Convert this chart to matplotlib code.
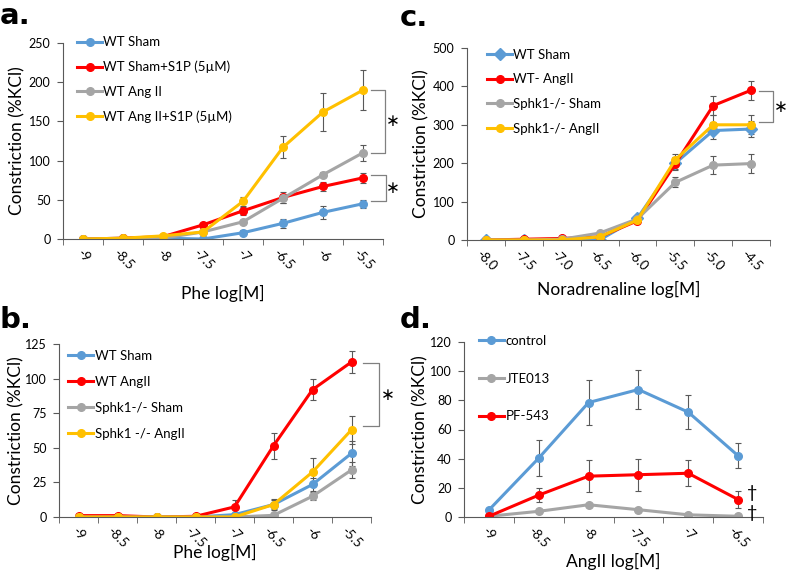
import numpy as np
import matplotlib
matplotlib.use('Agg')
import matplotlib.pyplot as plt

plt.rcParams['font.family'] = ['Lato', 'DejaVu Sans']

BLUE = '#5B9BD5'
RED = '#FF0000'
GRAY = '#A5A5A5'
YELLOW = '#FFC000'

# painel a - Phe
a_x = ['-9', '-8.5', '-8', '-7.5', '-7', '-6.5', '-6', '-5.5']
a_sham = [0, 1, 1, 0, 8, 20, 34, 45]
a_sham_err = [0, 0, 0, 0, 3, 6, 8, 5]
a_sham_s1p = [0, 1, 3, 18, 36, 53, 67, 78]
a_sham_s1p_err = [0, 0, 0, 2, 5, 7, 6, 6]
a_ang = [0, 0, 1, 9, 22, 52, 82, 110]
a_ang_err = [0, 0, 0, 1, 2, 6, 3, 10]
a_ang_s1p = [0, 1, 4, 9, 48, 117, 162, 190]
a_ang_s1p_err = [0, 0, 1, 2, 6, 14, 24, 25]

# painel b - Phe, knockout
b_x = ['-9', '-8.5', '-8', '-7.5', '-7', '-6.5', '-6', '-5.5']
b_sham = [0, 0, 0, 0, 1.7, 9, 23.5, 46]
b_sham_err = [0, 0, 0, 0, 1, 3, 5, 9]
b_ang = [1, 1, 0, 0.5, 7.3, 51.5, 92, 112]
b_ang_err = [0, 0, 0, 0, 5, 9.5, 7.5, 8]
b_ko_sham = [0, 0, 0, 0, 0, 1.2, 15, 34]
b_ko_sham_err = [0, 0, 0, 0, 0, 1, 3, 6]
b_ko_ang = [0, 0, 0, 0, 0, 9, 32.5, 63]
b_ko_ang_err = [0, 0, 0, 0, 0, 4, 10, 10]

# painel c - Noradrenalina
c_x = ['-8.0', '-7.5', '-7.0', '-6.5', '-6.0', '-5.5', '-5.0', '-4.5']
c_sham = [0, 0, 0, 0, 57, 200, 285, 289]
c_sham_err = [0, 0, 0, 0, 3, 15, 22, 20]
c_ang = [0, 2, 4, 8, 50, 198, 350, 390]
c_ang_err = [0, 0, 0, 0, 5, 15, 25, 25]
c_ko_sham = [0, 0, 2, 18, 55, 150, 195, 199]
c_ko_sham_err = [0, 0, 0, 3, 5, 13, 24, 25]
c_ko_ang = [0, 0, 0, 8, 52, 209, 300, 300]
c_ko_ang_err = [0, 0, 0, 2, 4, 15, 25, 25]

# painel d - AngII
d_x = ['-9', '-8.5', '-8', '-7.5', '-7', '-6.5']
d_control = [4.8, 40.4, 78.5, 87.4, 71.9, 42]
d_control_err = [0, 12.5, 15.5, 13.5, 11.5, 8.5]
d_jte = [0.5, 3.9, 8.4, 5, 1.5, 0.5]
d_jte_err = [0, 1, 1.5, 1, 1, 0.5]
d_pf = [0.5, 15, 28, 29, 30, 12]
d_pf_err = [0, 5, 11, 11, 9, 5.5]

W, H = 787, 571
fig = plt.figure(figsize=(W / 100, H / 100), dpi=100)


def px_axes(l, t, r, b):
    # caixa em pixels (topo para baixo) -> coordenadas da figura
    return fig.add_axes([l / W, (H - b) / H, (r - l) / W, (b - t) / H])


def panel(ax, cats, series, ymax, ystep, xlabel, leg_anchor, leg_space,
          ylab_x, xlab_y):
    x = np.arange(len(cats))
    for y, e, cor, nome, mk in series:
        ax.errorbar(x, y, yerr=e, color=cor, lw=2.2, marker=mk,
                    ms=5.5 if mk == 'o' else 6, ecolor='#595959',
                    elinewidth=0.8, capsize=2.5, capthick=0.8, label=nome)
    ax.set_xlim(-0.5, len(cats) - 0.5)
    ax.set_ylim(0, ymax)
    ax.set_yticks(np.arange(0, ymax + 1, ystep))
    ax.set_xticks(x)
    ax.set_xticklabels(cats, rotation=-45, ha='center', fontsize=9.5)
    ax.set_xticks(np.arange(len(cats) + 1) - 0.5, minor=True)
    ax.tick_params(axis='x', which='major', length=0, pad=6)
    ax.tick_params(axis='x', which='minor', length=4, color='#595959')
    ax.tick_params(axis='y', length=4, labelsize=9, color='#595959', pad=5)
    for s in ['top', 'right']:
        ax.spines[s].set_visible(False)
    for s in ['left', 'bottom']:
        ax.spines[s].set_color('#595959')
    ax.set_ylabel('Constriction (%KCl)', fontsize=12.5, va='center')
    ax.yaxis.set_label_coords(ylab_x, 0.5)
    ax.set_xlabel(xlabel, fontsize=12.5, va='center')
    ax.xaxis.set_label_coords(0.5, xlab_y)
    handles, labels = ax.get_legend_handles_labels()
    handles = [h[0] for h in handles]
    ax.legend(handles, labels, loc='upper left', bbox_to_anchor=leg_anchor,
              frameon=False, fontsize=9.5, handlelength=1.9, handletextpad=0.1,
              borderpad=0, borderaxespad=0, labelspacing=leg_space)


def bracket(ax, x0, x1, y0, y1, xs, txt='∗'):
    ax.plot([x0, x1, x1, x0], [y0, y0, y1, y1], color='#808080', lw=0.9,
            clip_on=False)
    ax.text(xs, (y0 + y1) / 2, txt, fontsize=12,
            family='DejaVu Sans', ha='center', va='center')


ax_a = px_axes(63, 43, 383, 239)
panel(ax_a, a_x, [(a_sham, a_sham_err, BLUE, 'WT Sham', 'o'),
                  (a_sham_s1p, a_sham_s1p_err, RED, 'WT Sham+S1P (5µM)', 'o'),
                  (a_ang, a_ang_err, GRAY, 'WT Ang II', 'o'),
                  (a_ang_s1p, a_ang_s1p_err, YELLOW, 'WT Ang II+S1P (5µM)', 'o')],
      250, 50, 'Phe log[M]', (0.044, 1.035), 0.95, -0.144, -0.276)
bracket(ax_a, 7.2, 7.55, 190, 110, 7.75)
bracket(ax_a, 7.2, 7.57, 82, 48, 7.75)

ax_c = px_axes(467, 48, 770, 240)
panel(ax_c, c_x, [(c_sham, c_sham_err, BLUE, 'WT Sham', 'D'),
                  (c_ang, c_ang_err, RED, 'WT- AngII', 'o'),
                  (c_ko_sham, c_ko_sham_err, GRAY, 'Sphk1-/- Sham', 'o'),
                  (c_ko_ang, c_ko_ang_err, YELLOW, 'Sphk1-/- AngII', 'o')],
      500, 100, 'Noradrenaline log[M]', (0.066, 0.995), 0.95, -0.152, -0.26)
bracket(ax_c, 7.21, 7.58, 388, 307, 7.78)

ax_b = px_axes(59, 344, 371, 517)
panel(ax_b, b_x, [(b_sham, b_sham_err, BLUE, 'WT Sham', 'o'),
                  (b_ang, b_ang_err, RED, 'WT AngII', 'o'),
                  (b_ko_sham, b_ko_sham_err, GRAY, 'Sphk1-/- Sham', 'o'),
                  (b_ko_ang, b_ko_ang_err, YELLOW, 'Sphk1 -/- AngII', 'o')],
      125, 25, 'Phe log[M]', (0.03, 0.965), 1.05, -0.138, -0.208)
bracket(ax_b, 7.3, 7.7, 111, 66, 7.93)

ax_d = px_axes(464, 342, 763, 517)
panel(ax_d, d_x, [(d_control, d_control_err, BLUE, 'control', 'o'),
                  (d_jte, d_jte_err, GRAY, 'JTE013', 'o'),
                  (d_pf, d_pf_err, RED, 'PF-543', 'o')],
      120, 20, 'AngII log[M]', (0.05, 1.04), 1.95, -0.145, -0.257)
ax_d.text(5.28, 16.5, '†', fontsize=13, ha='center', va='center')
ax_d.text(5.28, 2.7, '†', fontsize=13, ha='center', va='center')

for txt, xp, yp in [('a.', 0, 24), ('c.', 400, 26), ('b.', 0, 328), ('d.', 400, 328)]:
    fig.text(xp / W, 1 - yp / H, txt, fontsize=21, fontweight='bold',
             family=['DejaVu Sans'], ha='left', va='baseline')

fig.savefig('out.png', dpi=100)
